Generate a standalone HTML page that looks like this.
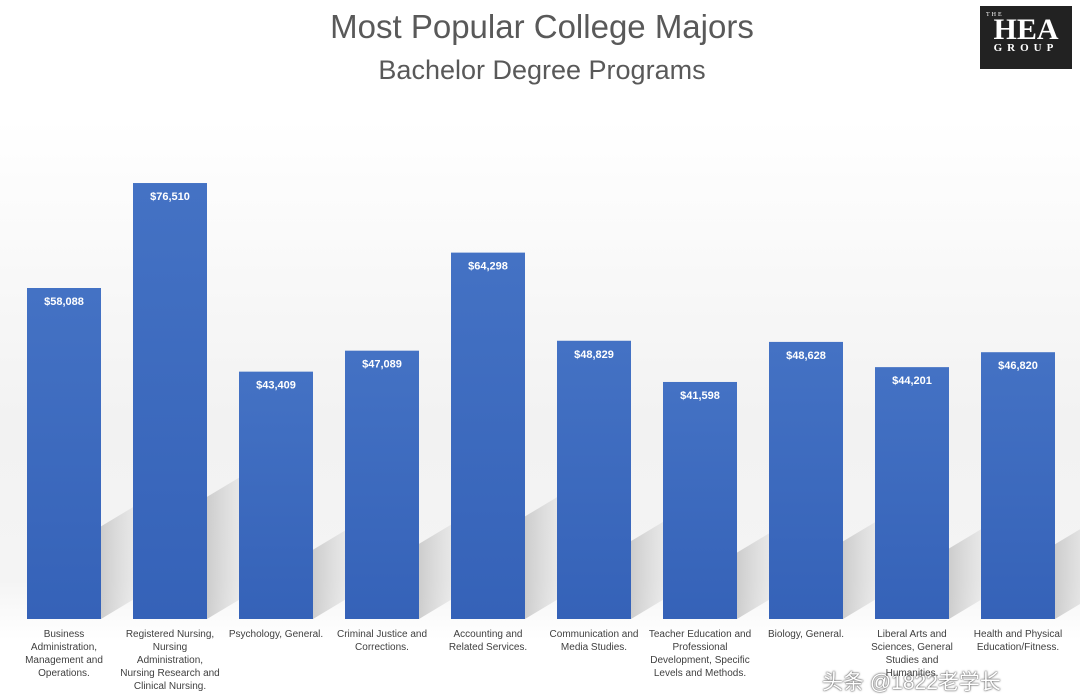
<!DOCTYPE html>
<html><head><meta charset="utf-8"><style>
body{margin:0;width:1080px;height:700px;overflow:hidden;background:#fff;font-family:"Liberation Sans","Noto Sans CJK SC",sans-serif}
#wrap{position:relative;width:1080px;height:700px;background:linear-gradient(#fff 0,#fff 120px,#f2f2f2 420px,#f4f4f4 580px,#fff 640px)}
.t1{position:absolute;top:8px;left:0;width:1084px;text-align:center;font-size:33px;color:#595959}
.t2{position:absolute;top:55px;left:0;width:1084px;text-align:center;font-size:27px;color:#595959}
.logo{position:absolute;left:980px;top:6px;width:92px;height:63px;background:#222;color:#fff;font-family:"Liberation Serif",serif;text-align:center}
.lab{position:absolute;top:628px;width:110px;text-align:center;font-size:10px;line-height:13px;color:#404040;white-space:pre-line}
.wm{position:absolute;left:822px;top:666px;font-size:21px;color:#fff;text-shadow:0 0 2px #555,0 0 1px #333}
</style></head><body>
<div id="wrap">
<div class="t1">Most Popular College Majors</div>
<div class="t2">Bachelor Degree Programs</div>
<div class="logo"><div style="font-size:6px;letter-spacing:2px;text-align:left;padding:6px 0 0 6px">THE</div><div style="font-size:30px;line-height:24px;font-weight:bold">HEA</div><div style="font-size:11px;letter-spacing:5px;font-weight:bold">GROUP</div></div>
<svg id="svg" width="1080" height="700" style="position:absolute;left:0;top:0">
<defs><linearGradient id="g" x1="0" x2="0" y1="0" y2="1"><stop offset="0" stop-color="#4472c4"/><stop offset="1" stop-color="#3562b8"/></linearGradient>
<linearGradient id="sh" x1="0" x2="1" y1="0" y2="0"><stop offset="0" stop-color="#c8c8c8" stop-opacity=".9"/><stop offset="1" stop-color="#e0e0e0" stop-opacity="0"/></linearGradient></defs>
</svg>
<div class="wm">头条 @1822老学长</div>
</div>
<script>
const categories=["Business\nAdministration,\nManagement and\nOperations.","Registered Nursing,\nNursing\nAdministration,\nNursing Research and\nClinical Nursing.","Psychology, General.","Criminal Justice and\nCorrections.","Accounting and\nRelated Services.","Communication and\nMedia Studies.","Teacher Education and\nProfessional\nDevelopment, Specific\nLevels and Methods.","Biology, General.","Liberal Arts and\nSciences, General\nStudies and\nHumanities.","Health and Physical\nEducation/Fitness."];
const salaries=[58088,76510,43409,47089,64298,48829,41598,48628,44201,46820];
const valueLabels=["$58,088","$76,510","$43,409","$47,089","$64,298","$48,829","$41,598","$48,628","$44,201","$46,820"];
const svg=document.getElementById('svg'),wrap=document.getElementById('wrap'),NS='http://www.w3.org/2000/svg';
const base=619,k=331/58088;
const y=v=>base-v*k, x=i=>27+i*106, bw=74;
salaries.forEach((v,i)=>{
 const top=y(v),h=base-top;
 const s=document.createElementNS(NS,'polygon');
 const x1=x(i)+bw;
 s.setAttribute('points',`${x1},${base} ${x1},${base-h*0.28} ${x1+60},${base-h*0.28-36} ${x1+60},${base-36}`);
 s.setAttribute('fill','url(#sh)');
 
 
 svg.appendChild(s);
});
salaries.forEach((v,i)=>{
 const r=document.createElementNS(NS,'rect');
 r.setAttribute('x',x(i));r.setAttribute('y',y(v));r.setAttribute('width',bw);r.setAttribute('height',base-y(v));r.setAttribute('fill','url(#g)');
 
 
 svg.appendChild(r);
 const t=document.createElementNS(NS,'text');
 t.setAttribute('x',x(i)+bw/2);t.setAttribute('y',y(v)+17);t.setAttribute('text-anchor','middle');t.setAttribute('fill','#fff');t.setAttribute('font-size','11');t.setAttribute('font-weight','bold');t.setAttribute('font-family','Liberation Sans, sans-serif');
 t.textContent=valueLabels[i];
 
 
 svg.appendChild(t);
 const d=document.createElement('div');
 d.className='lab';d.style.left=(x(i)+bw/2-55)+'px';d.textContent=categories[i];
 
 
 wrap.appendChild(d);
});
</script>
</body></html>
